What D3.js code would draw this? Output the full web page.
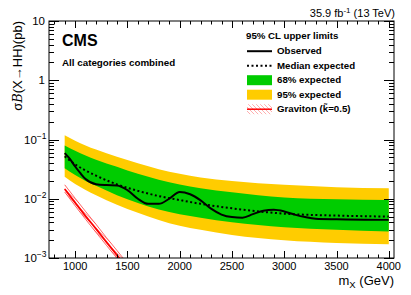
<!DOCTYPE html>
<html>
<head>
<meta charset="utf-8">
<script src="https://cdn.jsdelivr.net/npm/d3@7"></script>
<style>
  body { margin: 0; background: #fff; }
  svg { display: block; font-family: "Liberation Sans", Arial, Helvetica, sans-serif; }
</style>
</head>
<body>
<svg id="chart" width="411" height="295"></svg>
<script>
// expected limit and bands (pb)
const bandMass  = [900, 1000, 1100, 1200, 1400, 1600, 1800, 2000, 2200, 2500, 3000, 3500, 4000];
const expected  = [0.052, 0.038, 0.030, 0.0245, 0.0175, 0.0136, 0.0111, 0.0095, 0.0082, 0.0069, 0.0056, 0.0052, 0.0050];
const exp68Up   = [0.0794, 0.0646, 0.0537, 0.0457, 0.0347, 0.0263, 0.0209, 0.0174, 0.0151, 0.0129, 0.0105, 0.0098, 0.0095];
const exp68Down = [0.0326, 0.0251, 0.0200, 0.0166, 0.0115, 0.0085, 0.0066, 0.0055, 0.0048, 0.0040, 0.0033, 0.0030, 0.0028];
const exp95Up   = [0.118, 0.0955, 0.0794, 0.0676, 0.0513, 0.0398, 0.0316, 0.0263, 0.0229, 0.0200, 0.0172, 0.0157, 0.0151];
const exp95Down = [0.0236, 0.0178, 0.0141, 0.0115, 0.0079, 0.0058, 0.0044, 0.0035, 0.0030, 0.00245, 0.0020, 0.0018, 0.0017];

// observed limit
const obsMass = [900, 950, 1000, 1050, 1100, 1200, 1300, 1400, 1500, 1600, 1700, 1800, 1900, 2000, 2100, 2200,
                 2300, 2400, 2500, 2600, 2700, 2800, 2900, 3000, 3100, 3200, 3300, 3500, 4000];
const observed = [0.059, 0.047, 0.035, 0.027, 0.0215, 0.0176, 0.0170, 0.0168, 0.0140, 0.0100, 0.0082, 0.0082, 0.0100, 0.0130, 0.0119, 0.0094,
                  0.0068, 0.0054, 0.0049, 0.0048, 0.0055, 0.0063, 0.0065, 0.0061, 0.0054, 0.0049, 0.0046, 0.0045, 0.0044];

// graviton (k~=0.5) theory
const gravMass = [900, 1000, 1100, 1200, 1300, 1400, 1500, 1600];
const gravXsec = [0.0146, 0.0086, 0.0051, 0.0031, 0.00185, 0.00112, 0.00068, 0.00041];
const gravUp   = [0.0172, 0.0102, 0.0061, 0.0037, 0.0022, 0.00134, 0.00081, 0.00049];
const gravDown = [0.0130, 0.0076, 0.0045, 0.0027, 0.00163, 0.00099, 0.00060, 0.00036];

const xMajor = [1000, 1500, 2000, 2500, 3000, 3500, 4000];
const yMajor = [1e-3, 1e-2, 1e-1, 1, 10];
const yLabels = [["10", "\u22123"], ["10", "\u22122"], ["10", "\u22121"], ["1", ""], ["10", ""]];

const legendItems = ["Observed", "Median expected", "68% expected", "95% expected", "Graviton (k\u0303=0.5)"];

const plot = {left: 49, right: 394, top: 21, bottom: 258};
const green = "#00cc00", yellow = "#ffcc00", red = "#ff0000", pink = "#ff9a9a";

const svg = d3.select("#chart");
const x = d3.scaleLinear().domain([750, 4050]).range([plot.left, plot.right]);
const y = d3.scaleLog().domain([1e-3, 10]).range([plot.bottom, plot.top]);

// hatch pattern for graviton band
const defs = svg.append("defs");
const pat = defs.append("pattern")
    .attr("id", "hatch")
    .attr("patternUnits", "userSpaceOnUse")
    .attr("width", 4).attr("height", 4);
pat.append("path")
    .attr("d", "M-1,-1L5,5M3,-1L5,1M-1,3L1,5")
    .attr("stroke", pink).attr("stroke-width", 0.8);
defs.append("clipPath").attr("id", "clip")
    .append("rect")
    .attr("x", plot.left).attr("y", plot.top)
    .attr("width", plot.right - plot.left).attr("height", plot.bottom - plot.top);

const g = svg.append("g").attr("clip-path", "url(#clip)");

function band(mass, lo, hi, fill) {
    const area = d3.area()
        .x((d, i) => x(mass[i]))
        .y0((d, i) => y(lo[i]))
        .y1((d, i) => y(hi[i]))
        .curve(d3.curveMonotoneX);
    return g.append("path").datum(mass).attr("d", area).attr("fill", fill);
}

function curve(mass, vals) {
    return d3.line()
        .x((d, i) => x(mass[i]))
        .y((d, i) => y(vals[i]))
        .curve(d3.curveMonotoneX)(mass);
}

band(bandMass, exp95Down, exp95Up, yellow);
band(bandMass, exp68Down, exp68Up, green);

g.append("path")
    .attr("d", curve(bandMass, expected))
    .attr("fill", "none").attr("stroke", "#000")
    .attr("stroke-width", 2).attr("stroke-dasharray", "2,2.5");

g.append("path")
    .attr("d", curve(obsMass, observed))
    .attr("fill", "none").attr("stroke", "#000").attr("stroke-width", 2);

// graviton
band(gravMass, gravDown, gravUp, "url(#hatch)");
g.append("path").attr("d", curve(gravMass, gravUp))
    .attr("fill", "none").attr("stroke", red).attr("stroke-width", 0.6);
g.append("path").attr("d", curve(gravMass, gravDown))
    .attr("fill", "none").attr("stroke", red).attr("stroke-width", 0.6);
g.append("path").attr("d", curve(gravMass, gravXsec))
    .attr("fill", "none").attr("stroke", red).attr("stroke-width", 1.8);

// frame
svg.append("rect")
    .attr("x", plot.left).attr("y", plot.top)
    .attr("width", plot.right - plot.left).attr("height", plot.bottom - plot.top)
    .attr("fill", "none").attr("stroke", "#000").attr("stroke-width", 1);

// x ticks (bottom and top)
const ticks = svg.append("g").attr("stroke", "#000").attr("stroke-width", 1);
d3.range(800, 4001, 100).forEach(m => {
    const len = xMajor.includes(m) ? 7 : 3.5;
    const px = Math.round(x(m)) + 0.5;
    ticks.append("line").attr("x1", px).attr("x2", px).attr("y1", plot.bottom).attr("y2", plot.bottom - len);
    ticks.append("line").attr("x1", px).attr("x2", px).attr("y1", plot.top).attr("y2", plot.top + len);
});
xMajor.forEach(m => {
    svg.append("text")
        .attr("x", x(m)).attr("y", 270)
        .attr("text-anchor", "middle").attr("font-size", 11)
        .text(m);
});

// y ticks (left and right)
for (let e = -3; e <= 0; e++) {
    for (let k = 1; k <= 10; k++) {
        const v = k * Math.pow(10, e);
        const len = (k === 1 || k === 10) ? 10 : 5;
        const py = Math.round(y(v)) + 0.5;
        ticks.append("line").attr("x1", plot.left).attr("x2", plot.left + len).attr("y1", py).attr("y2", py);
        ticks.append("line").attr("x1", plot.right).attr("x2", plot.right - len).attr("y1", py).attr("y2", py);
    }
}
yMajor.forEach((v, i) => {
    const [base, sup] = yLabels[i];
    const t = svg.append("text")
        .attr("x", sup ? 46.5 : 45).attr("y", y(v) + 4)
        .attr("text-anchor", "end").attr("font-size", 11.5);
    t.append("tspan").text(base);
    if (sup) t.append("tspan").attr("dy", -5).attr("font-size", 8.5).text(sup);
});

// axis titles
const ylab = svg.append("text")
    .attr("transform", `translate(22,${plot.top}) rotate(-90)`)
    .attr("text-anchor", "end").attr("font-size", 13);
ylab.append("tspan").text("\u03c3");
ylab.append("tspan").attr("font-style", "italic").attr("font-family", "'DejaVu Serif', serif").text("B");
ylab.append("tspan").text("(X\u2192HH)(pb)");

const xlab = svg.append("text")
    .attr("x", plot.right).attr("y", 285)
    .attr("text-anchor", "end").attr("font-size", 13);
xlab.append("tspan").text("m");
xlab.append("tspan").attr("dy", 3).attr("font-size", 9.5).text("X");
xlab.append("tspan").attr("dy", -3).text(" (GeV)");

// header texts
const lumi = svg.append("text")
    .attr("x", 395).attr("y", 17)
    .attr("text-anchor", "end").attr("font-size", 11);
lumi.append("tspan").text("35.9 fb");
lumi.append("tspan").attr("dy", -4).attr("font-size", 8).text("-1");
lumi.append("tspan").attr("dy", 4).text(" (13 TeV)");

svg.append("text").attr("x", 62).attr("y", 46)
    .attr("font-size", 16).attr("font-weight", "bold").text("CMS");
svg.append("text").attr("x", 62).attr("y", 65.5)
    .attr("font-size", 9.8).attr("font-weight", "bold").text("All categories combined");

// legend
const leg = svg.append("g").attr("font-size", 9.7).attr("font-weight", "bold");
leg.append("text").attr("x", 246).attr("y", 38.5).text("95% CL upper limits");
legendItems.forEach((label, i) => {
    const by = 54 + i * 14.5;
    const cy = by - 2.8;
    if (i === 0) {
        leg.append("line").attr("x1", 247).attr("x2", 272).attr("y1", cy).attr("y2", cy)
            .attr("stroke", "#000").attr("stroke-width", 2);
    } else if (i === 1) {
        leg.append("line").attr("x1", 247).attr("x2", 272).attr("y1", cy).attr("y2", cy)
            .attr("stroke", "#000").attr("stroke-width", 2).attr("stroke-dasharray", "2,2.5");
    } else if (i === 2 || i === 3) {
        leg.append("rect").attr("x", 247).attr("y", cy - 5).attr("width", 25).attr("height", 10)
            .attr("fill", i === 2 ? green : yellow);
    } else {
        leg.append("rect").attr("x", 247).attr("y", cy - 5).attr("width", 25).attr("height", 10)
            .attr("fill", "url(#hatch)");
        leg.append("line").attr("x1", 247).attr("x2", 272).attr("y1", cy).attr("y2", cy)
            .attr("stroke", red).attr("stroke-width", 1.5);
    }
    leg.append("text").attr("x", 277).attr("y", by).text(label);
});
</script>
</body>
</html>
